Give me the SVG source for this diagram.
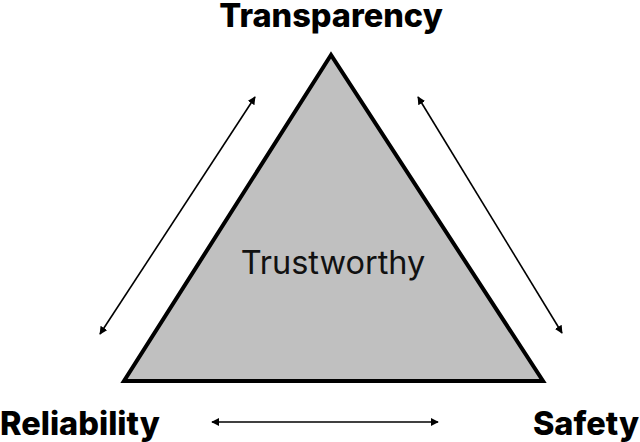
<svg xmlns="http://www.w3.org/2000/svg" width="640" height="442" viewBox="0 0 640 442">
<style>
.lbl{font-family:Inter,"Liberation Sans",sans-serif;font-weight:800;font-size:32.5px;fill:#000}
.mid{font-family:Inter,"Liberation Sans",sans-serif;font-size:32.5px;fill:#111}
.conn{stroke:#000;stroke-width:1.6;fill:none;marker-start:url(#ah);marker-end:url(#ah)}
</style>
<defs>
<marker id="ah" viewBox="0 0 10 10" refX="9" refY="5" markerWidth="8" markerHeight="8" markerUnits="userSpaceOnUse" orient="auto-start-reverse">
<path d="M0,0 L10,5 L0,10 z" fill="#000"/>
</marker>
</defs>
<rect width="640" height="442" fill="#fff"/>
<g id="trustworthy">
<polygon points="331,55 124,381 543,381" fill="#c0c0c0" stroke="#000" stroke-width="4" stroke-linejoin="miter"/>
<text class="mid" x="333" y="274" text-anchor="middle">Trustworthy</text>
</g>
<g id="transparency"><text class="lbl" x="331" y="27" text-anchor="middle">Transparency</text></g>
<g id="reliability"><text class="lbl" x="0" y="435">Reliability</text></g>
<g id="safety"><text class="lbl" x="639" y="435" text-anchor="end">Safety</text></g>
<g id="connectors">
<line class="conn" x1="100" y1="334" x2="255" y2="97"/>
<line class="conn" x1="418" y1="97" x2="562" y2="333"/>
<line class="conn" x1="212" y1="422" x2="438" y2="422"/>
</g>
</svg>
